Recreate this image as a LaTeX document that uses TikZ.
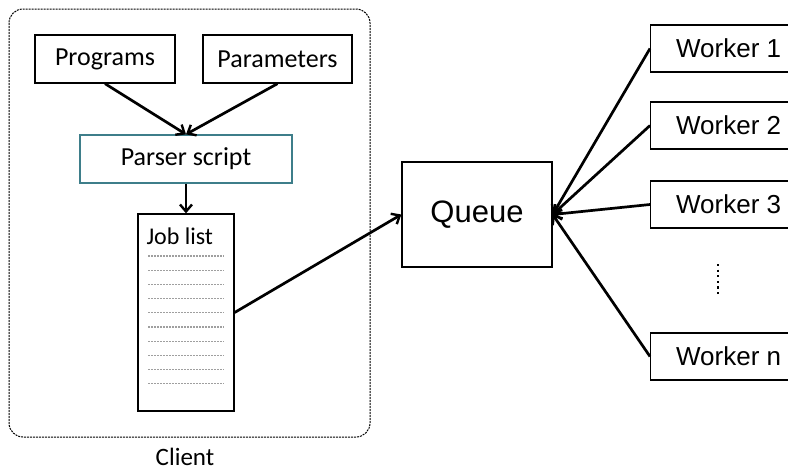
\documentclass[tikz,border=0pt]{standalone}
\usepackage{fontspec}
\setmainfont{Carlito}
\newfontfamily\arialfont{Liberation Sans}
\usepackage{tikz}
\usetikzlibrary{arrows.meta, positioning}

\definecolor{parserteal}{RGB}{62,126,138}

\begin{document}
\begin{tikzpicture}[x=1pt, y=-1pt,
  box/.style={draw, line width=1.3pt, inner sep=0pt, font=\fontsize{26}{30}\selectfont},
  workerbox/.style={box, anchor=west, minimum width=156pt, minimum height=47pt, font=\arialfont\fontsize{26}{30}\selectfont},
  flow/.style={line width=2.7pt, -{Straight Barb[length=7pt, width=12pt, line width=2.4pt]}},
  listline/.style={gray!75, line width=1.1pt, dash pattern=on 2pt off 1pt}]

\clip (0,0) rectangle (788,472);

% client side
\draw[line width=1pt, dash pattern=on 2pt off 1pt, rounded corners=14pt] (9,9) rectangle (370,437);
\node[anchor=base, inner sep=0pt, font=\fontsize{25}{30}\selectfont] (client) at (185,465) {Client};

\node[box, minimum width=140pt, minimum height=48pt] (prog) at (105,59) {Programs};
\node[box, minimum width=149pt, minimum height=48pt] (param) at (277.5,59) {Parameters};
\node[box, draw=parserteal, minimum width=212pt, minimum height=48pt] (parser) at (186,159) {Parser script};

\node[box, minimum width=96pt, minimum height=197pt] (job) at (186,312.5) {};
\node[anchor=west, inner sep=0pt, font=\fontsize{24}{28}\selectfont] (joblabel) at ([xshift=9pt, yshift=-23pt]job.north west) {Job list};
\foreach \i in {0,...,9}
  \draw[listline] (148,256+14.2*\i) -- (224,256+14.2*\i);

\draw[flow] (prog.south) -- (parser.north);
\draw[flow] (param.south) -- (parser.north);
\draw[flow] (parser.south) -- (job.north);

% queue and workers
\node[box, minimum width=150pt, minimum height=105pt, font=\arialfont\fontsize{31}{36}\selectfont] (queue) at (477,214.5) {Queue};
\draw[flow] (job.east) -- (queue.west);

\node[workerbox] (w1) at (650,48.5) {Worker 1};
\node[workerbox] (w2) at (650,125.5) {Worker 2};
\node[workerbox] (w3) at (650,204.5) {Worker 3};
\node[workerbox] (wn) at (650,356.5) {Worker n};

\draw[line width=2.2pt, dash pattern=on 2.2pt off 3.4pt] (718,264) -- (718,294);

\foreach \w in {w1,w2,w3,wn}
  \draw[flow] (\w.west) -- (queue.east);
\end{tikzpicture}
\end{document}
